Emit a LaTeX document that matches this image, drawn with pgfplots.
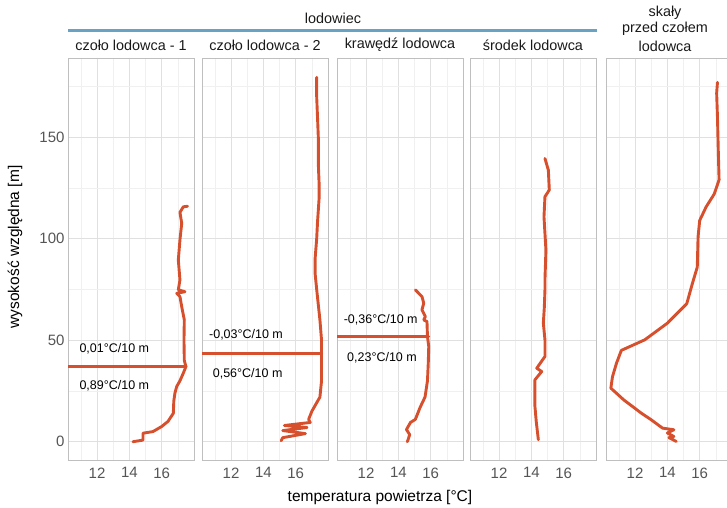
\documentclass[border=0pt]{standalone}
\usepackage{pgfplots}
\pgfplotsset{compat=1.18}
\usepackage{fontspec}
\setmainfont{Liberation Sans}
\definecolor{prof}{RGB}{214,80,45}
\definecolor{bl}{RGB}{104,162,196}
\definecolor{tk}{RGB}{85,85,85}
\pgfplotsset{
  panel/.style={
    scale only axis, width=126pt, height=402pt, anchor=south west,
    xmin=10.2, xmax=18.0, ymin=-9, ymax=189,
    xtick={12,14,16}, minor xtick={11,13,15,17},
    ytick={0,50,100,150}, minor ytick={25,75,125,175},
    grid=both,
    major grid style={color=black!12, line width=0.7pt},
    minor grid style={color=black!6, line width=0.6pt},
    axis line style={color=black!25, line width=0.8pt},
    major tick length=0pt, minor tick length=0pt,
    /pgf/number format/assume math mode=true,
    ticklabel style={font=\fontsize{15}{17}\selectfont, text=tk},
    xticklabel style={yshift=-4pt},
  },
}
\tikzset{ann/.style={anchor=west, font=\fontsize{12.5}{14}\selectfont, text=black, inner sep=0pt},
  pl/.style={draw=prof, line width=2.9pt, line join=round, line cap=round, mark=none}}
\begin{document}
\begin{tikzpicture}[x=1pt,y=1pt]
\path[use as bounding box] (0,0) rectangle (727,507);
% panel 1
\begin{axis}[panel, at={(68pt,47pt)}]
\addplot[pl] coordinates {(14.22,0)(14.84,0.8)(14.84,4.2)(15.46,5)(16.0,7.5)(16.39,10)(16.72,14)(16.75,20)(16.82,24)(16.93,27.2)(17.13,30)(17.34,33.8)(17.5,37)(17.4,40)(17.38,50)(17.4,60)(17.24,66.5)(17.13,71.5)(16.93,73.1)(17.44,73.9)(17.03,74.8)(17.13,79.7)(17.03,89.5)(17.13,99.4)(17.24,107.6)(17.13,113)(17.34,115.7)(17.6,116)};
\addplot[pl] coordinates {(10.2,37)(17.5,37)};
\node[ann] at (axis cs:10.9,45.6) {0,01°C/10 m};
\node[ann] at (axis cs:10.9,27.7) {0,89°C/10 m};
\end{axis}
% panel 2
\begin{axis}[panel, at={(202pt,47pt)}, yticklabels={}]
\addplot[pl] coordinates {(15.1,0.5)(15.2,2)(16.6,4)(15.2,5.5)(16.7,7)(15.3,8)(16.9,9.5)(16.8,11)(17.0,15)(17.5,22)(17.6,30)(17.6,40)(17.6,44)(17.6,50)(17.5,60)(17.3,75)(17.2,83)(17.2,90)(17.3,100)(17.35,108)(17.45,120)(17.45,127)(17.4,137)(17.4,150)(17.35,160)(17.3,170)(17.3,179.5)};
\addplot[pl] coordinates {(10.2,43.6)(17.61,43.6)};
\node[ann] at (axis cs:10.63,52.6) {-0,03°C/10 m};
\node[ann] at (axis cs:10.86,33.4) {0,56°C/10 m};
\end{axis}
% panel 3
\begin{axis}[panel, at={(337pt,47pt)}, yticklabels={}]
\addplot[pl] coordinates {(14.55,0)(14.6,1)(14.7,3.5)(14.5,6)(14.75,9.5)(15.05,11)(15.35,17)(15.65,22)(15.8,30)(15.85,38.7)(15.88,46.9)(15.8,51.8)(15.77,59.2)(15.57,60)(15.67,61.6)(15.46,65)(15.57,68.2)(15.46,71.5)(15.05,74.8)};
\addplot[pl] coordinates {(10.2,51.8)(15.88,51.8)};
\node[ann] at (axis cs:10.61,60) {-0,36°C/10 m};
\node[ann] at (axis cs:10.82,41.2) {0,23°C/10 m};
\end{axis}
% panel 4
\begin{axis}[panel, at={(470pt,47pt)}, yticklabels={}]
\addplot[pl] coordinates {(14.43,1)(14.3,10)(14.22,17.4)(14.22,30.5)(14.64,34.6)(14.33,36.2)(14.84,42)(14.84,50.2)(14.74,58.4)(14.8,66)(14.84,74.8)(14.84,79.7)(14.9,94.4)(14.78,110.8)(14.84,120.7)(15.11,124)(15.05,133.8)(14.84,139.5)};
\end{axis}
% panel 5
\begin{axis}[panel, at={(606pt,47pt)}, yticklabels={}]
\addplot[pl] coordinates {(14.55,0.15)(14.1,2)(14.4,2.6)(14.0,4.3)(14.4,5.9)(13.7,6.7)(13.0,10.8)(12.4,14)(11.3,20.6)(10.5,26.4)(10.6,32)(10.85,38.7)(11.15,45)(12.6,50.2)(14.0,58.4)(15.2,68)(15.55,78)(15.85,86)(15.9,101)(16.0,109)(16.4,115.7)(16.9,122)(17.2,129)(17.15,143.6)(17.1,160)(17.05,171.7)(17.1,177)};
\end{axis}
% strips
\begin{scope}[every node/.style={font=\fontsize{14.4}{16}\selectfont, text=black!90}]
\node at (131,462) {czoło lodowca - 1};
\node at (265,462) {czoło lodowca - 2};
\node at (400,462) {krawędź lodowca};
\node at (533,462) {środek lodowca};
\node at (665,494) {skały};
\node at (665,478) {przed czołem};
\node at (665,461) {lodowca};
\node at (333,489) {lodowiec};
\end{scope}
\draw[bl, line width=3pt] (68,476) -- (597,476);
\node[font=\fontsize{15.5}{17}\selectfont] at (380,10) {temperatura powietrza [°C]};
\node[font=\fontsize{15.5}{17}\selectfont, rotate=90] at (15,260) {wysokość względna [m]};
\end{tikzpicture}
\end{document}
